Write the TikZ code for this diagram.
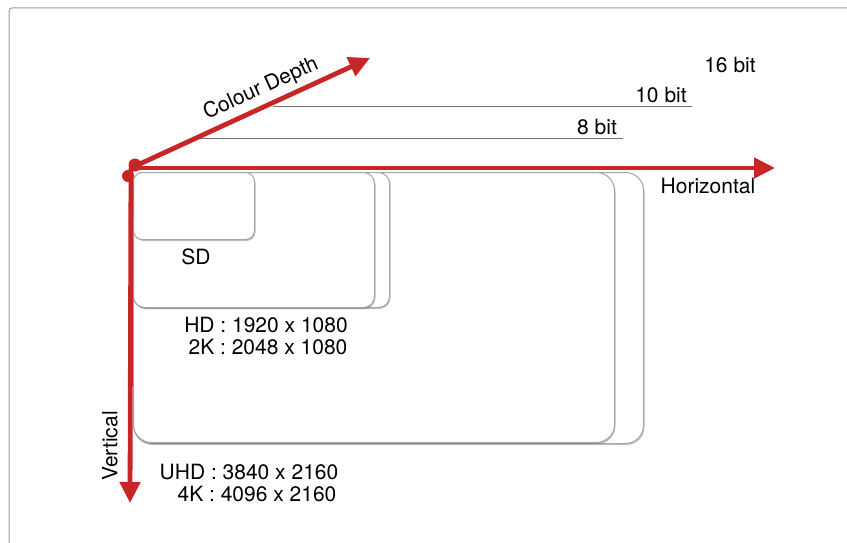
\documentclass[tikz,border=0pt]{standalone}
\usepackage{fontspec}
\setmainfont{TeX Gyre Heros}
\usetikzlibrary{arrows.meta,shadows}
\definecolor{axisred}{RGB}{200,38,38}
\definecolor{framegray}{RGB}{155,155,155}
\definecolor{boxgray}{RGB}{165,165,165}
\begin{document}
\begin{tikzpicture}[x=1pt,y=-1pt,
  axis/.style={draw=axisred,line width=4.8pt,-{Triangle[length=21pt,width=20pt]}},
  res/.style={draw=boxgray,line width=1pt,fill=white,anchor=north west,inner sep=0pt,
    drop shadow={shadow xshift=1pt,shadow yshift=-1.5pt,opacity=0.4,fill=black!60}},
  bitline/.style={draw=black!55,line width=0.8pt},
  lbl/.style={inner sep=0pt,font=\fontsize{21}{23}\selectfont,text=black}]
\useasboundingbox (0,0) rectangle (847,543);
\fill[white] (0,0) rectangle (847,543);
% frame
\draw[framegray,line width=1pt,rounded corners=3pt] (9,543) -- (9,8) -- (847,8);
% bit lines
\coordinate (b8s) at (200,138);
\coordinate (b8e) at (623,138);
\coordinate (b10s) at (273,106);
\coordinate (b10e) at (692,106);
\draw[bitline] (b8s) -- (b8e);
\draw[bitline] (b10s) -- (b10e);
% resolution boxes
\node[res,rounded corners=18pt,minimum width=510pt,minimum height=271pt] (fourk) at (133,172) {};
\node[res,rounded corners=18pt,minimum width=481pt,minimum height=270pt] (uhd) at (133,172) {};
\node[res,rounded corners=11pt,minimum width=256pt,minimum height=135pt] (twok) at (133,172) {};
\node[res,rounded corners=11pt,minimum width=241pt,minimum height=135pt] (hd) at (133,172) {};
\node[res,rounded corners=9pt,minimum width=121pt,minimum height=67pt] (sd) at (133,172) {};
% axes
\coordinate (o) at (131,168);
\coordinate (htip) at (775,168);
\coordinate (vtip) at (130,503);
\coordinate (ctip) at (370,58);
\draw[axis] (o) -- (htip);
\draw[axis] (o) -- (vtip);
\draw[axis] (o) -- (ctip);
\fill[axisred] (135,165) circle (6.5pt);
\fill[axisred] (128,176) circle (6pt);
% labels
\node[lbl] (cd) at (261,89) [rotate=24.6] {Colour Depth};
\node[lbl] (b16) at (730,65) {16 bit};
\node[lbl] (b10) at (661,95) {10 bit};
\node[lbl] (b8) at (597,127) {8 bit};
\node[lbl] (hor) at (708,186) {Horizontal};
\node[lbl,rotate=90] (ver) at (110,446) {Vertical};
\node[lbl,anchor=base] (sdl) at (196,264) {SD};
\node[lbl,anchor=base] (hdl) at (266,332) {HD : 1920 x 1080};
\node[lbl,anchor=base] (twokl) at (268,354) {2K : 2048 x 1080};
\node[lbl,anchor=base] (uhdl) at (249,479) {UHD : 3840 x 2160};
\node[lbl,anchor=base] (fourkl) at (257,501) {4K : 4096 x 2160};
\end{tikzpicture}
\end{document}
